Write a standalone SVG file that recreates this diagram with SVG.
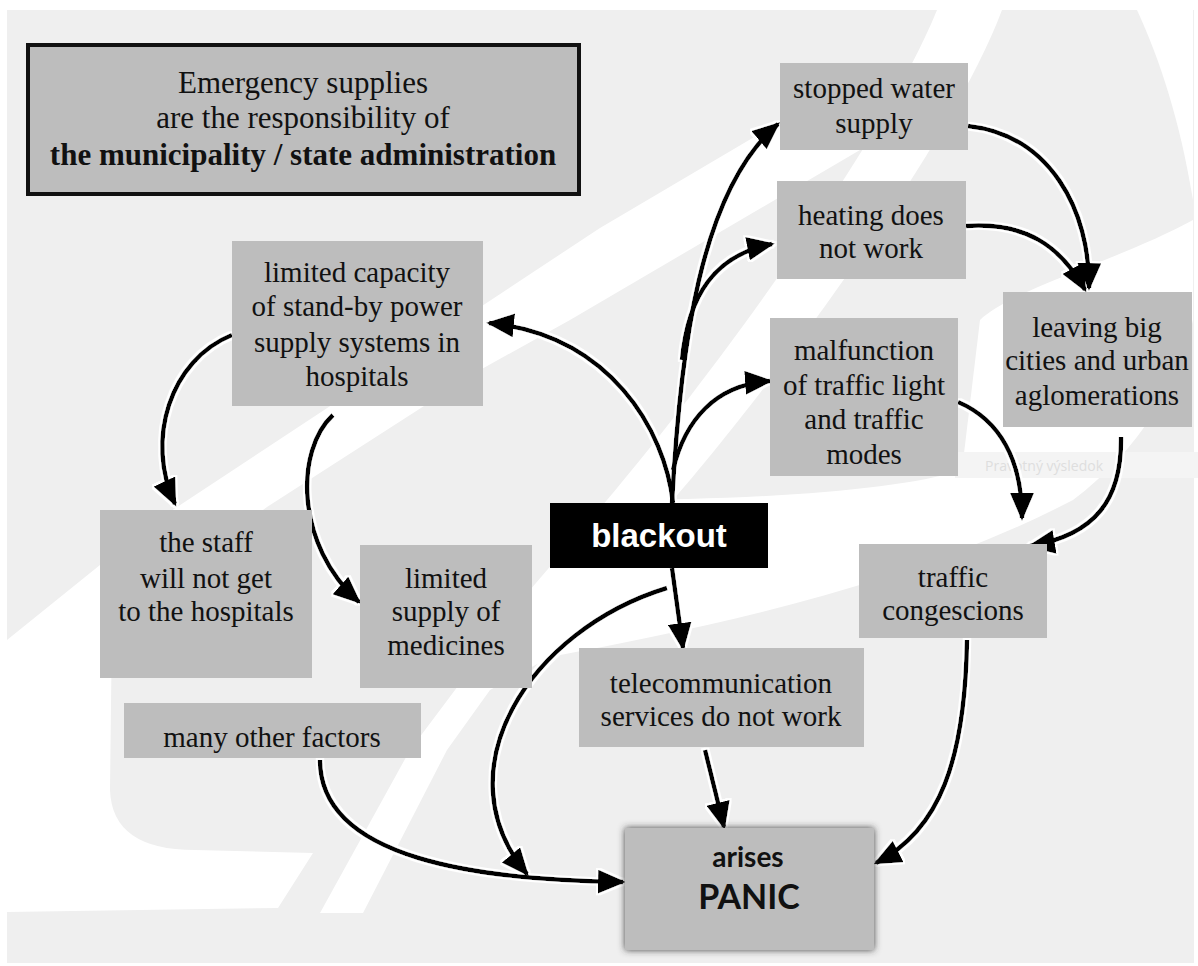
<svg xmlns="http://www.w3.org/2000/svg" width="1198" height="966" viewBox="0 0 1198 966">
<defs>
<style>
.box{fill:#bdbdbd;}
.t{font-family:"Liberation Serif","Times New Roman",serif;font-size:29px;fill:#111;text-anchor:middle;}
.conn{fill:none;stroke:#000;stroke-width:4.5;marker-end:url(#ah);}
.bgw{fill:#ffffff;}
</style>
<marker id="ah" markerUnits="userSpaceOnUse" markerWidth="28" markerHeight="24" refX="25" refY="12" orient="auto">
<path d="M0,0 L28,12 L0,24 Z" fill="#000"/>
</marker>
<filter id="halo" filterUnits="userSpaceOnUse" x="0" y="0" width="1198" height="966">
<feMorphology in="SourceAlpha" operator="dilate" radius="1.5" result="d"/>
<feFlood flood-color="#ffffff"/>
<feComposite in2="d" operator="in" result="w"/>
<feMerge><feMergeNode in="w"/><feMergeNode in="SourceGraphic"/></feMerge>
</filter>
<filter id="shadow" x="-10%" y="-10%" width="120%" height="120%">
<feDropShadow dx="0" dy="0" stdDeviation="3.5" flood-color="#333" flood-opacity="0.9"/>
</filter>
</defs>

<g id="background">
<rect x="0" y="0" width="1198" height="966" fill="#ffffff"/>
<rect x="7" y="10" width="1187" height="953" fill="#efefef"/>
<path class="bgw" d="M7,640 L100,565 L165,515 L600,228 L800,110 L860,150 L570,320 L480,370 L267,507 L112,622 L110,790 Q112,850 195,850 L313,853 L278,908 L7,912 Z"/>
<path class="bgw" d="M607,500 C700,390 880,150 937,10 L1002,10 C950,150 760,400 673,500 Z"/>
<path class="bgw" d="M320,913 L363,913 L447,750 L490,690 L550,657 C700,628 900,590 1073,500 C1140,450 1180,380 1193,320 L1193,220 C1120,260 1010,290 980,320 L962,470 C900,490 760,500 607,500 L530,590 L410,750 Z"/>
<path class="bgw" d="M1137,10 L1193,10 L1193,200 C1180,120 1160,60 1137,10 Z"/>
<rect x="955" y="452" width="243" height="26" fill="#f4f4f4"/>
<text x="985" y="471" style="font-family:'Open Sans','Liberation Sans',sans-serif;font-size:14px;fill:#dedede;">Pravotný výsledok</text>
</g>

<g id="connectors" filter="url(#halo)">
<path class="conn" d="M673,503 C665,430 610,335 489,323"/>
<path class="conn" d="M672,503 C680,350 700,190 778,124"/>
<path class="conn" d="M682,360 C688,295 715,255 772,244"/>
<path class="conn" d="M673,470 C685,420 715,385 770,381"/>
<path class="conn" d="M672,568 L683,648"/>
<path class="conn" d="M667,588 C530,630 440,770 527,874"/>
<path class="conn" d="M320,760 C320,860 480,880 623,882"/>
<path class="conn" d="M705,750 L724,827"/>
<path class="conn" d="M967,640 C965,760 940,830 876,863"/>
<path class="conn" d="M968,126 C1050,135 1090,210 1089,288"/>
<path class="conn" d="M966,226 C1025,222 1060,245 1085,290"/>
<path class="conn" d="M958,402 C1000,420 1022,460 1022,518"/>
<path class="conn" d="M1121,437 C1122,500 1095,535 1030,546"/>
<path class="conn" d="M232,335 C170,360 145,440 175,504"/>
<path class="conn" d="M333,415 C295,450 295,545 359,602"/>
</g>

<g id="node-title">
<rect x="28" y="45" width="551" height="149" fill="#bdbdbd" stroke="#111" stroke-width="4"/>
<text class="t" x="303" y="93" style="font-size:31px;">Emergency supplies</text>
<text class="t" x="303" y="128" style="font-size:31px;">are the responsibility of</text>
<text class="t" x="303" y="165" style="font-size:31px;font-weight:bold;">the municipality / state administration</text>
</g>

<g id="node-hospital-power">
<rect class="box" x="232" y="241" width="251" height="165"/>
<text class="t" x="357" y="282">limited capacity</text>
<text class="t" x="357" y="316">of stand-by power</text>
<text class="t" x="357" y="352">supply systems in</text>
<text class="t" x="357" y="386">hospitals</text>
</g>

<g id="node-water">
<rect class="box" x="780" y="63" width="188" height="87"/>
<text class="t" x="874" y="98">stopped water</text>
<text class="t" x="874" y="133">supply</text>
</g>

<g id="node-heating">
<rect class="box" x="777" y="181" width="189" height="98"/>
<text class="t" x="871" y="225">heating does</text>
<text class="t" x="871" y="258">not work</text>
</g>

<g id="node-traffic-light">
<rect class="box" x="770" y="318" width="188" height="158"/>
<text class="t" x="864" y="360">malfunction</text>
<text class="t" x="864" y="395">of traffic light</text>
<text class="t" x="864" y="429">and traffic</text>
<text class="t" x="864" y="464">modes</text>
</g>

<g id="node-leaving">
<rect class="box" x="1003" y="292" width="189" height="135"/>
<text class="t" x="1097" y="337">leaving big</text>
<text class="t" x="1097" y="370">cities and urban</text>
<text class="t" x="1097" y="405">aglomerations</text>
</g>

<g id="node-blackout">
<rect x="550" y="503" width="218" height="65" fill="#000"/>
<text x="659" y="547" style="font-family:'Liberation Sans',Arial,sans-serif;font-size:33px;font-weight:bold;fill:#fff;text-anchor:middle;">blackout</text>
</g>

<g id="node-congestion">
<rect class="box" x="859" y="544" width="188" height="94"/>
<text class="t" x="953" y="587">traffic</text>
<text class="t" x="953" y="620">congescions</text>
</g>

<g id="node-staff">
<rect class="box" x="100" y="510" width="212" height="168"/>
<text class="t" x="206" y="552">the staff</text>
<text class="t" x="206" y="588">will not get</text>
<text class="t" x="206" y="621">to the hospitals</text>
</g>

<g id="node-medicines">
<rect class="box" x="360" y="545" width="172" height="143"/>
<text class="t" x="446" y="588">limited</text>
<text class="t" x="446" y="621">supply of</text>
<text class="t" x="446" y="655">medicines</text>
</g>

<g id="node-telecom">
<rect class="box" x="579" y="648" width="285" height="99"/>
<text class="t" x="721" y="693">telecommunication</text>
<text class="t" x="721" y="726">services do not work</text>
</g>

<g id="node-other">
<rect class="box" x="124" y="703" width="297" height="55"/>
<text class="t" x="272" y="747">many other factors</text>
</g>

<g id="node-panic">
<rect x="625" y="828" width="249" height="122" fill="#bdbdbd" filter="url(#shadow)"/>
<text x="748" y="867" style="font-family:Lato,'Liberation Sans',sans-serif;font-size:28px;font-weight:bold;fill:#111;text-anchor:middle;">arises</text>
<text x="749" y="909" style="font-family:Lato,'Liberation Sans',sans-serif;font-size:34px;font-weight:bold;fill:#111;text-anchor:middle;">PANIC</text>
</g>
</svg>
